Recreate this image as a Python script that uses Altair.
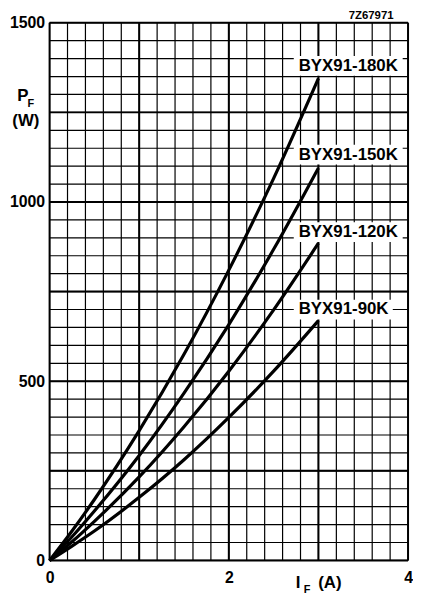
import altair as alt
import pandas as pd

# ---- data ----
current = [0, 0.25, 0.5, 1.0, 1.5, 2.0, 2.5, 3.0]
p_180k = [0, 82, 170, 362, 575, 810, 1066, 1345]
p_150k = [0, 66, 138, 293, 467, 658, 868, 1095]
p_120k = [0, 52, 109, 233, 373, 528, 699, 885]
p_90k = [0, 40, 82, 176, 281, 399, 528, 669]
series_names = ["BYX91-180K", "BYX91-150K", "BYX91-120K", "BYX91-90K"]
label_x = [2.78, 2.78, 2.78, 2.78]
label_y = [1380, 1132, 916, 700]
x_ticks = [0, 2, 4]
y_ticks = [0, 500, 1000, 1500]
x_minor = [round(0.2 * i, 1) for i in range(21)]
y_minor = [50 * i for i in range(31)]
x_major = [0, 1, 2, 3, 4]
y_major = [250 * i for i in range(7)]

W, H = 362, 543
FONT = "Liberation Sans"

rows = []
for name, vals in zip(series_names, [p_180k, p_150k, p_120k, p_90k]):
    for i, p in zip(current, vals):
        rows.append({"series": name, "I": i, "P": p})
curves = pd.DataFrame(rows)

px_per_A = W / 4.0
W_per_px = 1500.0 / H
labels = pd.DataFrame({"name": series_names, "x": label_x, "y": label_y})
labels["bx1"] = labels["x"] - 5 / px_per_A
labels["bx2"] = labels["x"] + (labels["name"].str.len() * 10.0 + 5) / px_per_A
labels["by1"] = labels["y"] - 10 * W_per_px
labels["by2"] = labels["y"] + 10 * W_per_px

xs = alt.Scale(domain=[0, 4], nice=False, zero=False)
ys = alt.Scale(domain=[0, 1500], nice=False, zero=False)

x_axis = alt.Axis(values=x_ticks, title=None, grid=False, ticks=False, domain=False, format="d",
                  labelFontSize=16, labelFontWeight="bold", labelFont=FONT,
                  labelPadding=9, labelColor="black", labelFlush=False)
y_axis = alt.Axis(values=y_ticks, title=None, grid=False, ticks=False, domain=False, format="d",
                  labelFontSize=16, labelFontWeight="bold", labelFont=FONT,
                  labelPadding=5, labelColor="black", labelFlush=False)

vminor = alt.Chart(pd.DataFrame({"v": x_minor})).mark_rule(color="black", strokeWidth=1.2).encode(
    x=alt.X("v:Q", scale=xs, axis=x_axis))
hminor = alt.Chart(pd.DataFrame({"v": y_minor})).mark_rule(color="black", strokeWidth=1.2).encode(
    y=alt.Y("v:Q", scale=ys, axis=y_axis))
vmajor = alt.Chart(pd.DataFrame({"v": x_major})).mark_rule(color="black", strokeWidth=2.0).encode(
    x=alt.X("v:Q", scale=xs, axis=x_axis))
hmajor = alt.Chart(pd.DataFrame({"v": y_major})).mark_rule(color="black", strokeWidth=2.0).encode(
    y=alt.Y("v:Q", scale=ys, axis=y_axis))

lines = alt.Chart(curves).mark_line(color="black", strokeWidth=3.2, interpolate="monotone").encode(
    x=alt.X("I:Q", scale=xs, axis=x_axis),
    y=alt.Y("P:Q", scale=ys, axis=y_axis),
    detail="series:N")

boxes = alt.Chart(labels).mark_rect(color="white").encode(
    x=alt.X("bx1:Q", scale=xs, axis=x_axis), x2="bx2:Q",
    y=alt.Y("by1:Q", scale=ys, axis=y_axis), y2="by2:Q")

texts = alt.Chart(labels).mark_text(align="left", baseline="middle", font=FONT, fontSize=17,
                                    fontWeight="bold", color="black").encode(
    x=alt.X("x:Q", scale=xs, axis=x_axis),
    y=alt.Y("y:Q", scale=ys, axis=y_axis),
    text="name:N")


def note(t, x, y, size, weight="bold", align="center"):
    return alt.Chart(pd.DataFrame({"t": [t]})).mark_text(
        align=align, baseline="middle", font=FONT, fontSize=size, fontWeight=weight, color="black"
    ).encode(x=alt.value(x), y=alt.value(y), text="t:N")


annotations = [
    note("P", -27, 74, 17),
    note("F", -19, 82, 11),
    note("(W)", -24, 99.5, 17),
    note("I", 251, 565.5, 17),
    note("F", 260, 572.5, 11),
    note("(A)", 283, 565.5, 17),
    note("7Z67971", 302, -6.5, 11.5, align="left"),
]

chart = alt.layer(vminor, hminor, vmajor, hmajor, lines, boxes, texts, *annotations).properties(
    width=W, height=H,
    autosize=alt.AutoSizeParams(type="none"),
    padding={"left": 42, "top": 12, "right": 5, "bottom": 34},
    background="white",
).configure_view(stroke=None)

chart.save("out.html", embed_options={"renderer": "svg", "actions": False})
